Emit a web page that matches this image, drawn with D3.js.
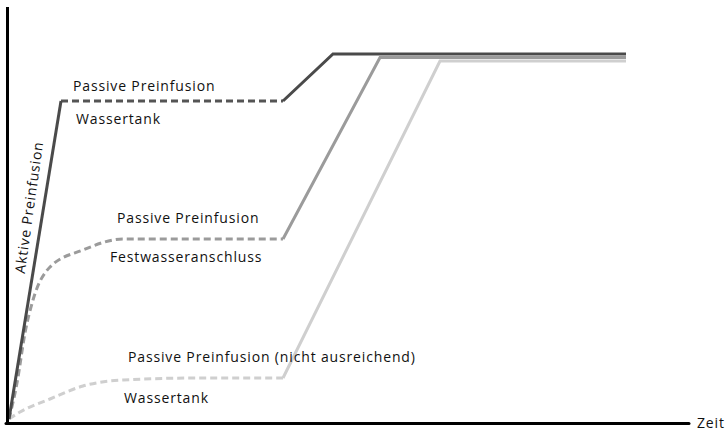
<!DOCTYPE html>
<html>
<head>
<meta charset="utf-8">
<script src="https://cdn.jsdelivr.net/npm/d3@7"></script>
<style>
  body { margin: 0; background: #fff; }
  svg text { font-family: "Open Sans", "Noto Sans", sans-serif; font-size: 14px; letter-spacing: 0.85px; fill: #111; }
</style>
</head>
<body>
<div id="chart"></div>
<script>
// time / pressure in arbitrary units (1 unit = 10px)
// dark: active preinfusion, then passive (water tank)
const darkSolidA = [[0, 0], [5.2, 31.8]];
const darkDash = [[5.2, 31.8], [27.4, 31.8]];
const darkSolidB = [[27.4, 31.8], [32.4, 36.5], [61.7, 36.5]];

// mid: passive preinfusion, mains water
const midDash = [[0, 0], [0.8, 3.6], [1.6, 8.6], [2.4, 11.9], [4.1, 15.2], [7.4, 16.9], [11.4, 18.0], [18, 18.0], [27.4, 18.0]];
const midSolid = [[27.4, 18.0], [37.1, 36.15], [61.7, 36.15]];

// light: passive preinfusion, water tank (not sufficient)
const lightDash = [[0, 0], [1.1, 0.7], [4.1, 2.0], [7.4, 3.3], [11.4, 3.9], [19, 4.1], [27.4, 4.1]];
const lightSolid = [[27.4, 4.1], [43.1, 35.8], [61.7, 35.8]];

const labels = [
  { text: "Passive Preinfusion", x: 6.4, y: 32.8 },
  { text: "Wassertank", x: 6.7, y: 29.5 },
  { text: "Passive Preinfusion", x: 10.8, y: 19.6 },
  { text: "Festwasseranschluss", x: 10.1, y: 15.7 },
  { text: "Passive Preinfusion (nicht ausreichend)", x: 11.9, y: 5.7 },
  { text: "Wassertank", x: 11.5, y: 1.6 }
];

const width = 727, height = 430;
const x = d3.scaleLinear().domain([0, 68]).range([9, 689]);
const y = d3.scaleLinear().domain([0, 41]).range([419, 9]);

const svg = d3.select("#chart").append("svg")
  .attr("width", width)
  .attr("height", height);

const straight = d3.line().x(d => x(d[0])).y(d => y(d[1]));
const smooth = d3.line().x(d => x(d[0])).y(d => y(d[1])).curve(d3.curveMonotoneX);

function drawLine(data, gen, color, dashed) {
  svg.append("path")
    .datum(data)
    .attr("d", gen)
    .attr("fill", "none")
    .attr("stroke", color)
    .attr("stroke-width", 3)
    .attr("stroke-linejoin", "miter")
    .attr("stroke-dasharray", dashed ? "7,4" : null);
}

// light first so darker ones sit on top
drawLine(lightDash, smooth, "#cfcfcf", true);
drawLine(lightSolid, straight, "#cfcfcf", false);
drawLine(midDash, smooth, "#9b9b9b", true);
drawLine(midSolid, straight, "#9b9b9b", false);
drawLine(darkDash, straight, "#555555", true);
drawLine(darkSolidA, straight, "#4a4a4a", false);
drawLine(darkSolidB, straight, "#4a4a4a", false);

// axes (sit just outside the plot origin)
const axisY = y(0) + 4.5, axisX = x(0) - 1.5;
svg.append("line")
  .attr("x1", axisX).attr("y1", 7)
  .attr("x2", axisX).attr("y2", axisY + 1.5)
  .attr("stroke", "#000").attr("stroke-width", 3);
svg.append("line")
  .attr("x1", axisX - 1.5).attr("y1", axisY)
  .attr("x2", x(68)).attr("y2", axisY)
  .attr("stroke", "#000").attr("stroke-width", 3)
  .attr("stroke-linecap", "round");

svg.append("text")
  .attr("x", x(68) + 8)
  .attr("y", axisY + 4)
  .text("Zeit");

// labels
svg.selectAll("text.lbl")
  .data(labels)
  .enter()
  .append("text")
  .attr("class", "lbl")
  .attr("x", d => x(d.x))
  .attr("y", d => y(d.y))
  .text(d => d.text);

// rotated label along the active preinfusion ramp
svg.append("text")
  .attr("text-anchor", "middle")
  .attr("transform", `translate(${x(2.5)},${y(21.1)}) rotate(-82)`)
  .text("Aktive Preinfusion");
</script>
</body>
</html>
